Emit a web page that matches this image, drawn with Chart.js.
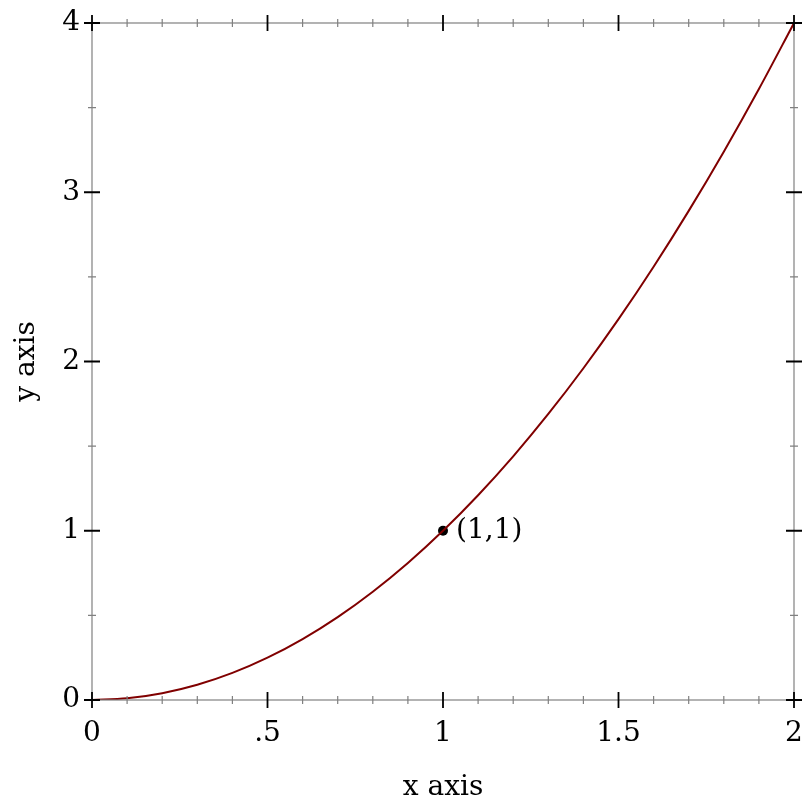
<!DOCTYPE html>
<html lang="en">
<head>
    <meta charset="UTF-8">
    <title>y = x squared</title>
    <script src="https://cdn.jsdelivr.net/npm/chart.js"></script>
    <style>
        body { margin: 0; background: #fff; }
        #wrap { width: 812px; height: 812px; position: relative; }
    </style>
</head>
<body>
    <div id="wrap"><canvas id="plot"></canvas></div>

    <script>
        // Curve samples
        const curveX = [0, 0.1, 0.2, 0.3, 0.4, 0.5, 0.6, 0.7, 0.8, 0.9, 1, 1.1, 1.2, 1.3, 1.4, 1.5, 1.6, 1.7, 1.8, 1.9, 2];
        const curveY = [0, 0.01, 0.04, 0.09, 0.16, 0.25, 0.36, 0.49, 0.64, 0.81, 1, 1.21, 1.44, 1.69, 1.96, 2.25, 2.56, 2.89, 3.24, 3.61, 4];

        // Marked point
        const pointX = [1];
        const pointY = [1];
        const pointLabels = ['(1,1)'];

        // Tick labels
        const xTickLabels = ['0', '.5', '1', '1.5', '2'];
        const yTickLabels = ['0', '1', '2', '3', '4'];
        const xMinorTicks = [0.1, 0.2, 0.3, 0.4, 0.6, 0.7, 0.8, 0.9, 1.1, 1.2, 1.3, 1.4, 1.6, 1.7, 1.8, 1.9];
        const yMinorTicks = [0.5, 1.5, 2.5, 3.5];
        const xMajorTicks = [0, 0.5, 1, 1.5, 2];
        const yMajorTicks = [0, 1, 2, 3, 4];

        const FONT = "'DejaVu Serif', serif";
        const FONT_SIZE = 28;

        // Frame, tick marks on all four sides and the point label
        const framePlugin = {
            id: 'frame',
            afterDraw(chart) {
                const { ctx, chartArea: a, scales: { x, y } } = chart;
                ctx.save();

                // axis lines
                ctx.strokeStyle = '#808080';
                ctx.lineWidth = 1.2;
                ctx.strokeRect(a.left, a.top, a.right - a.left, a.bottom - a.top);

                // minor ticks
                ctx.beginPath();
                xMinorTicks.forEach(v => {
                    const px = x.getPixelForValue(v);
                    ctx.moveTo(px, a.bottom - 4); ctx.lineTo(px, a.bottom + 4);
                    ctx.moveTo(px, a.top - 4); ctx.lineTo(px, a.top + 4);
                });
                yMinorTicks.forEach(v => {
                    const py = y.getPixelForValue(v);
                    ctx.moveTo(a.left - 4, py); ctx.lineTo(a.left + 4, py);
                    ctx.moveTo(a.right - 4, py); ctx.lineTo(a.right + 4, py);
                });
                ctx.stroke();

                // major ticks
                ctx.strokeStyle = '#000';
                ctx.lineWidth = 1.8;
                ctx.beginPath();
                xMajorTicks.forEach(v => {
                    const px = x.getPixelForValue(v);
                    ctx.moveTo(px, a.bottom - 8); ctx.lineTo(px, a.bottom + 8);
                    ctx.moveTo(px, a.top - 8); ctx.lineTo(px, a.top + 8);
                });
                yMajorTicks.forEach(v => {
                    const py = y.getPixelForValue(v);
                    ctx.moveTo(a.left - 8, py); ctx.lineTo(a.left + 8, py);
                    ctx.moveTo(a.right - 8, py); ctx.lineTo(a.right + 8, py);
                });
                ctx.stroke();

                // point label
                ctx.fillStyle = '#000';
                ctx.font = FONT_SIZE + 'px ' + FONT;
                ctx.textAlign = 'left';
                ctx.textBaseline = 'middle';
                pointLabels.forEach((t, i) => {
                    ctx.fillText(t, x.getPixelForValue(pointX[i]) + 13, y.getPixelForValue(pointY[i]));
                });
                ctx.restore();
            }
        };

        new Chart(document.getElementById('plot'), {
            type: 'scatter',
            data: {
                datasets: [{
                    data: curveX.map((v, i) => ({ x: v, y: curveY[i] })),
                    showLine: true,
                    borderColor: '#800000',
                    borderWidth: 2,
                    pointRadius: 0,
                    cubicInterpolationMode: 'monotone'
                }, {
                    data: pointX.map((v, i) => ({ x: v, y: pointY[i] })),
                    pointRadius: 5,
                    backgroundColor: '#000',
                    borderColor: '#000',
                    borderWidth: 0
                }]
            },
            options: {
                responsive: true,
                maintainAspectRatio: false,
                animation: false,
                layout: { padding: { left: 0, top: 23, right: 18, bottom: 0 } },
                plugins: { legend: { display: false }, tooltip: { enabled: false } },
                scales: {
                    x: {
                        type: 'linear',
                        min: 0, max: 2,
                        grid: { display: false, drawTicks: false },
                        border: { display: false },
                        ticks: {
                            stepSize: 0.5,
                            padding: 17,
                            maxRotation: 0,
                            color: '#000',
                            font: { family: FONT, size: FONT_SIZE },
                            callback: (v, i) => xTickLabels[i]
                        },
                        title: {
                            display: true,
                            text: 'x axis',
                            color: '#000',
                            font: { family: FONT, size: FONT_SIZE },
                            padding: { top: 0, bottom: 7 }
                        },
                        afterFit: s => {
                            s.height = 112;
                            s.paddingLeft = 0;
                            s.paddingRight = 0;
                        }
                    },
                    y: {
                        type: 'linear',
                        min: 0, max: 4,
                        grid: { display: false, drawTicks: false },
                        border: { display: false },
                        ticks: {
                            stepSize: 1,
                            padding: 12,
                            color: '#000',
                            font: { family: FONT, size: FONT_SIZE },
                            callback: (v, i) => yTickLabels[i]
                        },
                        title: {
                            display: true,
                            text: 'y axis',
                            color: '#000',
                            font: { family: FONT, size: FONT_SIZE },
                            padding: { top: 10, bottom: 0 }
                        },
                        afterFit: s => {
                            s.width = 92;
                            s.paddingTop = 0;
                            s.paddingBottom = 0;
                        }
                    }
                }
            },
            plugins: [framePlugin]
        });
    </script>
</body>
</html>
